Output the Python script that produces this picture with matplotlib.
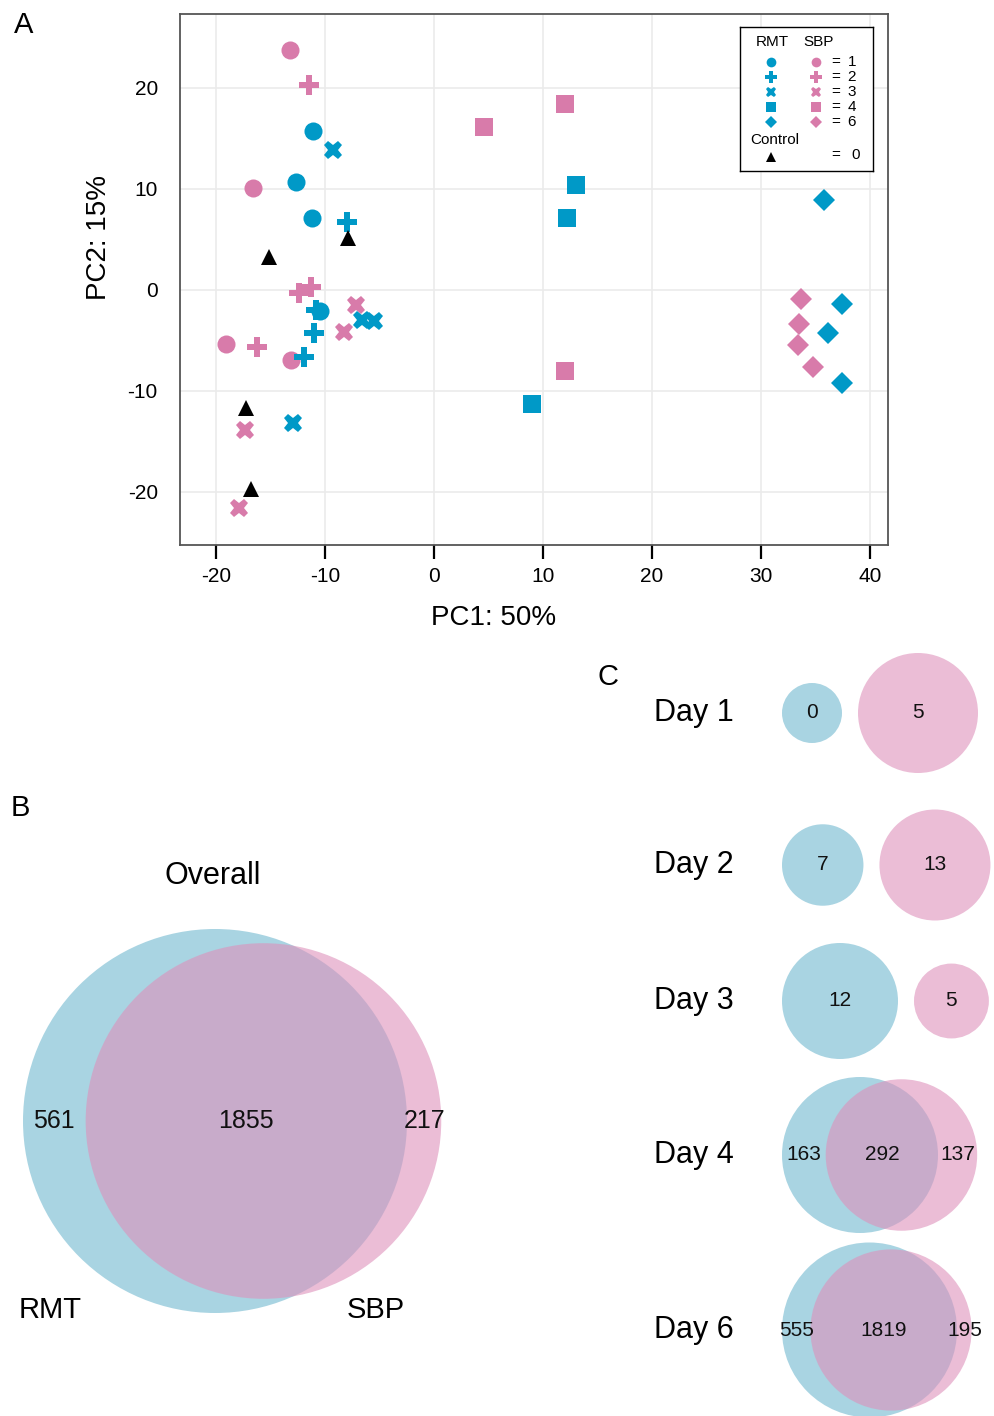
import numpy as np
import matplotlib
matplotlib.use('Agg')
import matplotlib.pyplot as plt
from matplotlib.patches import Circle

plt.rcParams['font.family'] = ['Liberation Sans', 'DejaVu Sans']
plt.rcParams['axes.unicode_minus'] = False

# ---- panel A: PCA scores ----
rmt1_pc1 = [-11.1, -12.7, -11.2, -10.5]
rmt1_pc2 = [15.7, 10.7, 7.1, -2.1]
rmt2_pc1 = [-8.0, -10.8, -11.0, -11.9]
rmt2_pc2 = [6.7, -2.0, -4.3, -6.6]
rmt3_pc1 = [-9.3, -6.6, -5.5, -12.9]
rmt3_pc2 = [13.8, -3.0, -3.1, -13.2]
rmt4_pc1 = [13.0, 12.2, 9.0]
rmt4_pc2 = [10.4, 7.1, -11.3]
rmt6_pc1 = [35.8, 37.4, 36.1, 37.4]
rmt6_pc2 = [8.9, -1.4, -4.3, -9.2]

sbp1_pc1 = [-13.2, -16.6, -19.1, -13.1]
sbp1_pc2 = [23.7, 10.1, -5.4, -6.9]
sbp2_pc1 = [-11.5, -12.4, -11.3, -16.2]
sbp2_pc2 = [20.3, -0.3, 0.3, -5.7]
sbp3_pc1 = [-7.2, -8.3, -17.3, -17.9]
sbp3_pc2 = [-1.5, -4.2, -13.9, -21.6]
sbp4_pc1 = [4.6, 12.0, 12.0]
sbp4_pc2 = [16.1, 18.4, -8.0]
sbp6_pc1 = [33.7, 33.5, 33.4, 34.8]
sbp6_pc2 = [-0.9, -3.4, -5.5, -7.6]

ctrl_pc1 = [-15.1, -7.9, -17.2, -16.8]
ctrl_pc2 = [3.3, 5.1, -11.7, -19.7]

days = [1, 2, 3, 4, 6]

# ---- panel B: overall DE genes ----
overall_rmt_only = 561
overall_both = 1855
overall_sbp_only = 217

# ---- panel C: per day ----
day_labels = ['Day 1', 'Day 2', 'Day 3', 'Day 4', 'Day 6']
rmt_only = [0, 7, 12, 163, 555]
both = [0, 0, 0, 292, 1819]
sbp_only = [5, 13, 5, 137, 195]

BLUE = '#0099C7'
PINK = '#D87BAA'
V_BLUE = '#A9D4E2'
V_PINK = '#DE91BB'

fig = plt.figure(figsize=(9.94, 14.16), dpi=100)

# background axes in pixel units for panels B and C
bg = fig.add_axes([0, 0, 1, 1])
bg.set_xlim(0, 994)
bg.set_ylim(1416, 0)
bg.axis('off')


def lens_area(r1, r2, d):
    if d >= r1 + r2:
        return 0.0
    if d <= abs(r1 - r2):
        return np.pi * min(r1, r2) ** 2
    a1 = r1 ** 2 * np.arccos((d * d + r1 * r1 - r2 * r2) / (2 * d * r1))
    a2 = r2 ** 2 * np.arccos((d * d + r2 * r2 - r1 * r1) / (2 * d * r2))
    k = 0.5 * np.sqrt((-d + r1 + r2) * (d + r1 - r2) * (d - r1 + r2) * (d + r1 + r2))
    return a1 + a2 - k


def centre_gap(r1, r2, target):
    lo, hi = abs(r1 - r2), r1 + r2
    for _ in range(80):
        mid = (lo + hi) / 2
        if lens_area(r1, r2, mid) > target:
            lo = mid
        else:
            hi = mid
    return (lo + hi) / 2


def venn(left, cy, rmax, a_only, ab, b_only, fs):
    ta, tb = a_only + ab, b_only + ab
    k = rmax / np.sqrt(max(ta, tb))
    ra = max(k * np.sqrt(ta), 0.5 * rmax)
    rb = max(k * np.sqrt(tb), 0.5 * rmax)
    ca = left + ra
    if ab > 0:
        d = centre_gap(ra, rb, np.pi * k * k * ab)
        cb = ca + d
        pos = [((ca - ra) + (cb - rb)) / 2, ((cb - rb) + (ca + ra)) / 2,
               ((ca + ra) + (cb + rb)) / 2]
        vals = [a_only, ab, b_only]
    else:
        cb = ca + ra + 16 + rb
        pos = [ca, cb]
        vals = [a_only, b_only]
    bg.add_patch(Circle((ca, cy), ra, facecolor=V_BLUE, edgecolor='none'))
    bg.add_patch(Circle((cb, cy), rb, facecolor=V_PINK, edgecolor='none', alpha=0.6))
    for x, v in zip(pos, vals):
        bg.text(x, cy, str(v), ha='center', va='center', fontsize=fs, color='#111111')


# panel B
venn(23, 1121, 192, overall_rmt_only, overall_both, overall_sbp_only, 18)
bg.text(213, 876, 'Overall', ha='center', va='center', fontsize=22)
bg.text(50, 1310, 'RMT', ha='center', va='center', fontsize=21)
bg.text(376, 1310, 'SBP', ha='center', va='center', fontsize=21)

# panel C
row_y = [713, 865, 1001, 1155, 1330]
row_r = [60, 55.5, 58, 78, 87.5]
for lab, y, r, a, ab, b in zip(day_labels, row_y, row_r, rmt_only, both, sbp_only):
    venn(782, y, r, a, ab, b, 15)
    bg.text(654, y, lab, ha='left', va='center', fontsize=22)

for lab, x, y in [('A', 24, 25), ('B', 20, 808), ('C', 608, 677)]:
    bg.text(x, y, lab, ha='center', va='center', fontsize=21)

# panel A
ax = fig.add_axes([180 / 994, 1 - 545 / 1416, 708 / 994, 531 / 1416])
groups = [
    (sbp1_pc1, sbp1_pc2, 'o', PINK, 13),
    (sbp2_pc1, sbp2_pc2, 'P', PINK, 15),
    (sbp3_pc1, sbp3_pc2, 'X', PINK, 13.5),
    (sbp4_pc1, sbp4_pc2, 's', PINK, 12.5),
    (sbp6_pc1, sbp6_pc2, 'D', PINK, 11),
    (rmt1_pc1, rmt1_pc2, 'o', BLUE, 13),
    (rmt2_pc1, rmt2_pc2, 'P', BLUE, 15),
    (rmt3_pc1, rmt3_pc2, 'X', BLUE, 13.5),
    (rmt4_pc1, rmt4_pc2, 's', BLUE, 12.5),
    (rmt6_pc1, rmt6_pc2, 'D', BLUE, 11),
    (ctrl_pc1, ctrl_pc2, '^', 'black', 12),
]
for x, y, m, c, ms in groups:
    ax.plot(x, y, linestyle='none', marker=m, color=c, markersize=ms,
            markeredgewidth=0)

ax.set_xlim(-23.3, 41.65)
ax.set_ylim(-25.25, 27.3)
ax.set_xticks([-20, -10, 0, 10, 20, 30, 40])
ax.set_yticks([-20, -10, 0, 10, 20])
ax.grid(True, color='#EBEBEB', linewidth=1.2)
ax.set_axisbelow(True)
for s in ax.spines.values():
    s.set_color('#555555')
    s.set_linewidth(1.3)
ax.tick_params(axis='x', length=10, width=1.6, color='black', labelsize=15, pad=6)
ax.tick_params(axis='y', length=0, labelsize=15, pad=16)
ax.set_xlabel('PC1: 50%', fontsize=20)
ax.set_ylabel('PC2: 15%', fontsize=20)
ax.xaxis.set_label_coords(0.443, -0.113)
ax.yaxis.set_label_coords(-0.096, 0.58)

# legend box
lg = ax.inset_axes([0.791, 0.704, 0.188, 0.2715])
lg.set_xlim(0, 1)
lg.set_ylim(0, 1)
lg.set_xticks([])
lg.set_yticks([])
for s in lg.spines.values():
    s.set_color('black')
    s.set_linewidth(1.0)
lg.text(0.24, 0.896, 'RMT', ha='center', va='center', fontsize=11)
lg.text(0.59, 0.896, 'SBP', ha='center', va='center', fontsize=11)
leg_markers = ['o', 'P', 'X', 's', 'D']
leg_sizes = [7, 8.5, 7.5, 6.5, 6]
row_pos = [0.757, 0.653, 0.549, 0.444, 0.34]
for d, m, ms, yy in zip(days, leg_markers, leg_sizes, row_pos):
    lg.plot([0.233], [yy], marker=m, color=BLUE, markersize=ms, markeredgewidth=0)
    lg.plot([0.57], [yy], marker=m, color=PINK, markersize=ms, markeredgewidth=0)
    lg.text(0.72, yy, '=', ha='center', va='center', fontsize=11)
    lg.text(0.84, yy, str(d), ha='center', va='center', fontsize=11)
lg.text(0.263, 0.215, 'Control', ha='center', va='center', fontsize=11)
lg.plot([0.233], [0.097], marker='^', color='black', markersize=7, markeredgewidth=0)
lg.text(0.72, 0.111, '=', ha='center', va='center', fontsize=11)
lg.text(0.865, 0.111, '0', ha='center', va='center', fontsize=11)

fig.savefig('out.png', dpi=100)
